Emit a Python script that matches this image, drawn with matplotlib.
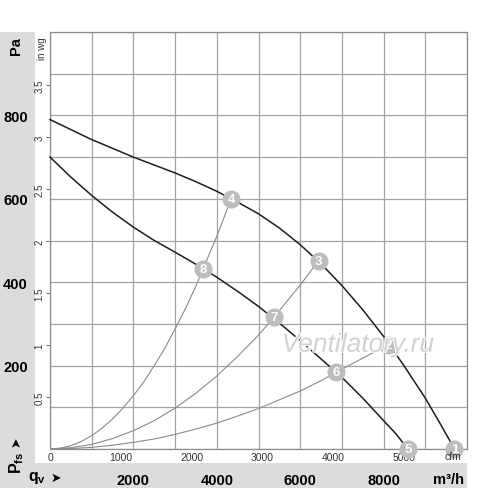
import matplotlib.pyplot as plt
from matplotlib.patches import Rectangle
import matplotlib.patheffects as pe

plt.rcParams['font.family'] = ['Liberation Sans', 'DejaVu Sans']
plt.rcParams['mathtext.fontset'] = 'custom'
plt.rcParams['mathtext.rm'] = 'Liberation Sans'
plt.rcParams['mathtext.bf'] = 'Liberation Sans:bold'

# fan curves, air flow qv in m3/h, static pressure pfs in Pa
qv_upper = [0, 500, 1000, 1500, 2000, 2500, 3000, 3500, 4000, 4500, 5000, 5500,
            6000, 6500, 7000, 7500, 8000, 8500, 9000, 9350, 9700]
pfs_upper = [790, 766, 742, 721, 700, 681, 662, 641, 618, 592, 564, 530,
             490, 444, 392, 334, 270, 198, 122, 62, 0]
qv_lower = [0, 500, 1000, 1500, 2000, 2500, 3000, 3500, 4000, 4500, 5000, 5500,
            6000, 6500, 7000, 7500, 8000, 8300, 8580]
pfs_lower = [700, 652, 608, 568, 532, 500, 472, 443, 412, 378, 342, 302,
             260, 216, 172, 122, 68, 36, 0]

# system curves (through the operating points)
qv_sys_a = [0, 250, 500, 750, 1000, 1250, 1500, 1750, 2000, 2250, 2500, 2750,
            3000, 3250, 3500, 3672, 4000, 4344]
pfs_sys_a = [0, 2, 8, 18, 32, 50, 72, 98, 128, 161, 200, 241,
             288, 337, 391, 432, 510, 600]
qv_sys_b = [0, 500, 1000, 1500, 2000, 2500, 3000, 3500, 4000, 4500, 5000, 5370, 6000, 6440]
pfs_sys_b = [0, 3, 11, 25, 44, 68, 98, 134, 175, 222, 273, 316, 393, 452]
qv_sys_c = [0, 500, 1000, 1500, 2000, 2500, 3000, 3500, 4000, 4500, 5000, 5500,
            6000, 6500, 6870, 7500, 8112]
pfs_sys_c = [0, 1, 4, 9, 16, 24, 35, 48, 62, 79, 97, 118,
             139, 164, 184, 218, 250]

# numbered operating points
pt_labels = ['1', '2', '3', '4', '5', '6', '7', '8']
pt_qv = [9700, 8112, 6440, 4344, 8580, 6870, 5370, 3672]
pt_pfs = [0, 250, 452, 600, 0, 184, 316, 432]

pa_ticks = [200, 400, 600, 800]
inwg_ticks = [0.5, 1, 1.5, 2, 2.5, 3, 3.5]
inwg_labels = ['0.5', '1', '1.5', '2', '2.5', '3', '3.5']
m3h_ticks = [2000, 4000, 6000, 8000]
cfm_ticks = [0, 1000, 2000, 3000, 4000, 5000]

W, H = 500, 489
fig = plt.figure(figsize=(W / 100, H / 100), dpi=100)
ax = fig.add_axes([50 / W, (H - 450) / H, 417 / W, 417 / H])

band = '#dcdcdc'
fig.patches.append(Rectangle((0, 0), 35 / W, (H - 33) / H, transform=fig.transFigure,
                             facecolor=band, edgecolor='none', zorder=-10))
fig.patches.append(Rectangle((0, 0), 467 / W, (H - 464) / H, transform=fig.transFigure,
                             facecolor=band, edgecolor='none', zorder=-10))

ax.set_xlim(0, 10000)
ax.set_ylim(0, 1000)

grid_x = list(range(0, 10001, 1000))
grid_y = list(range(0, 1001, 100))
ax.set_xticks(grid_x)
ax.set_xticklabels([str(v) if v in m3h_ticks else '' for v in grid_x], fontweight='bold')
ax.set_yticks(grid_y)
ax.set_yticklabels([str(v) if v in pa_ticks else '' for v in grid_y], fontweight='bold')
ax.tick_params(axis='x', length=0, pad=17, labelsize=10.5)
ax.tick_params(axis='y', length=0, pad=16, labelsize=10.5)
ax.grid(True, color='#a3a3a3', lw=0.9)
ax.set_axisbelow(True)
for s in ax.spines.values():
    s.set_color('#8c8c8c')
    s.set_linewidth(0.9)

# secondary scales: inch water gauge and cfm
sec_y = ax.secondary_yaxis('left', functions=(lambda p: p / 249.09, lambda w: w * 249.09))
sec_y.set_yticks(inwg_ticks)
sec_y.set_yticklabels(inwg_labels, rotation=90, va='center')
sec_y.tick_params(length=3, width=0.6, pad=1, labelsize=7, color='#555555', labelcolor='#333333')
sec_y.spines['left'].set_visible(False)

sec_x = ax.secondary_xaxis('bottom', functions=(lambda q: q / 1.699, lambda c: c * 1.699))
sec_x.set_xticks(cfm_ticks)
sec_x.tick_params(length=0, pad=2, labelsize=7.5, labelcolor='#333333')
sec_x.spines['bottom'].set_visible(False)
sec_x.set_zorder(0)

ax.plot(qv_sys_a, pfs_sys_a, color='#8a8a8a', lw=0.8, zorder=2)
ax.plot(qv_sys_b, pfs_sys_b, color='#8a8a8a', lw=0.8, zorder=2)
ax.plot(qv_sys_c, pfs_sys_c, color='#8a8a8a', lw=0.8, zorder=2)
ax.plot(qv_upper, pfs_upper, color='#1e1e1e', lw=1.1, zorder=3, clip_on=False)
ax.plot(qv_lower, pfs_lower, color='#1e1e1e', lw=1.1, zorder=3, clip_on=False)

ax.plot(pt_qv, pt_pfs, 'o', ms=13, mfc='#bdbdbd', mec='none', zorder=5, clip_on=False)
for lab, q, p in zip(pt_labels, pt_qv, pt_pfs):
    ax.text(q, p, lab, color='white', fontweight='bold', fontsize=9.5,
            ha='center', va='center', zorder=6, clip_on=False)

ax.text(7380, 250, 'Ventilatory.ru', style='italic', fontsize=19, color='#d2d2d2',
        ha='center', va='center', zorder=7,
        path_effects=[pe.withStroke(linewidth=1.5, foreground='white')])

# axis titles around the frame
fig.text(16 / W, 1 - 46 / H, 'Pa', rotation=90, fontweight='bold', fontsize=10.5,
         ha='center', va='center')
fig.text(42 / W, 1 - 49 / H, 'in wg', rotation=90, fontsize=7, color='#333333',
         ha='center', va='center')
fig.text(17 / W, 1 - 463 / H, r'$\mathbf{P}_{\mathbf{fs}}$', rotation=90, fontsize=11.5,
         ha='center', va='center')
fig.text(17 / W, 1 - 442 / H, '➤', rotation=90, fontsize=9, ha='center', va='center')
fig.text(37 / W, 1 - 478 / H, r'$\mathbf{q}_{\mathbf{v}}$', fontsize=11.5,
         ha='center', va='center')
fig.text(56 / W, 1 - 479 / H, '➤', fontsize=9, ha='center', va='center')
fig.text(448 / W, 1 - 480 / H, 'm³/h', fontweight='bold', fontsize=10.5,
         ha='center', va='center')
fig.text(453 / W, 1 - 457 / H, 'cfm', fontsize=7.5, color='#333333',
         ha='center', va='center')

fig.savefig('out.png', dpi=100)
